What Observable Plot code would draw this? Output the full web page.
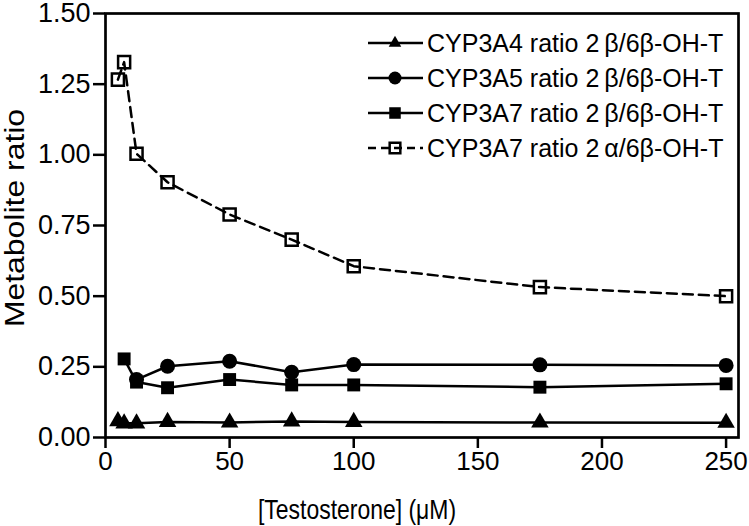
<!DOCTYPE html>
<html><head><meta charset="utf-8">
<script src="https://cdn.jsdelivr.net/npm/d3@7"></script>
<script src="https://cdn.jsdelivr.net/npm/@observablehq/plot@0.6"></script>
<style>
body{margin:0;background:#fff;}
#chart svg{font-family:"Liberation Sans",Arial,sans-serif;background:#fff;}
</style></head><body><div id="chart"></div>
<script>
// Testosterone concentrations (µM)
const concentrations = [5, 7.5, 12.5, 25, 50, 75, 100, 175, 250];
// Metabolite ratios per series (null = no point)
const cyp3a4_2b6b = [0.058, 0.050, 0.050, 0.055, 0.053, 0.057, 0.055, 0.053, 0.052];
const cyp3a5_2b6b = [null, null, 0.205, 0.252, 0.270, 0.231, 0.258, 0.257, 0.255];
const cyp3a7_2b6b = [null, 0.278, 0.196, 0.176, 0.205, 0.186, 0.186, 0.178, 0.190];
const cyp3a7_2a6b = [1.266, 1.328, 1.004, 0.903, 0.789, 0.700, 0.606, 0.532, 0.500];
const seriesLabels = [
  "CYP3A4 ratio 2\u2009β/6β-OH-T",
  "CYP3A5 ratio 2\u2009β/6β-OH-T",
  "CYP3A7 ratio 2\u2009β/6β-OH-T",
  "CYP3A7 ratio 2\u2009α/6β-OH-T"
];
const xTicks = [0, 50, 100, 150, 200, 250];
const yTicks = [0, 0.25, 0.5, 0.75, 1.0, 1.25, 1.5];
const xLabel = "[Testosterone] (μM)";
const yLabel = "Metabolite ratio";

const toRows = (vals) => concentrations.map((x, i) => ({x, y: vals[i]})).filter(d => d.y != null);
const rA4 = toRows(cyp3a4_2b6b), rA5 = toRows(cyp3a5_2b6b), rA7 = toRows(cyp3a7_2b6b), rA7a = toRows(cyp3a7_2a6b);

const SW = 2.5;
const legendStyles = [
  {type: d3.symbolTriangle2, r: 6, fill: "#000", stroke: "none", dash: null},
  {type: d3.symbolCircle, r: 6.5, fill: "#000", stroke: "none", dash: null},
  {type: d3.symbolSquare, r: 6.5, fill: "#000", stroke: "none", dash: null},
  {type: d3.symbolSquare, r: 6, fill: "none", stroke: "#000", dash: "8,5"}
];

function legend(index, scales, values, dims) {
  const right = dims.width - dims.marginRight;
  const cx = right - 343, y0 = dims.marginTop + 30, step = 35;
  const g = d3.create("svg:g");
  seriesLabels.forEach((label, i) => {
    const s = legendStyles[i], y = y0 + i * step;
    g.append("line").attr("x1", cx - 27).attr("x2", cx + 28).attr("y1", y).attr("y2", y)
      .attr("stroke", "#000").attr("stroke-width", SW).attr("stroke-dasharray", s.dash);
    g.append("path").attr("transform", `translate(${cx},${y})`)
      .attr("d", d3.symbol(s.type, s.r * s.r * Math.PI)())
      .attr("fill", s.fill).attr("stroke", s.stroke).attr("stroke-width", SW);
    g.append("text").attr("x", cx + 32).attr("y", y).attr("dy", "0.36em")
      .attr("text-anchor", "start")
      .attr("font-size", 25).attr("fill", "#000").text(label);
  });
  return g.node();
}

const chart = Plot.plot({
  width: 749, height: 526,
  marginLeft: 105, marginTop: 13, marginRight: 11, marginBottom: 89,
  x: {domain: [0, 255]},
  y: {domain: [0, 1.5]},
  marks: [
    Plot.axisX({ticks: xTicks, tickSize: 11, tickPadding: 3, fontSize: 26, strokeWidth: SW, label: null}),
    Plot.axisY({ticks: yTicks, tickFormat: d3.format(".2f"), tickSize: 12, tickPadding: 3, fontSize: 27, strokeWidth: SW, label: null}),
    Plot.frame({stroke: "#000", strokeWidth: 2.7}),
    Plot.line(rA4, {x: "x", y: "y", stroke: "#000", strokeWidth: SW}),
    Plot.line(rA5, {x: "x", y: "y", stroke: "#000", strokeWidth: SW}),
    Plot.line(rA7, {x: "x", y: "y", stroke: "#000", strokeWidth: SW}),
    Plot.line(rA7a, {x: "x", y: "y", stroke: "#000", strokeWidth: SW, strokeDasharray: "10,6"}),
    Plot.dot(rA4, {x: "x", y: "y", symbol: "triangle", r: 6.5, fill: "#000"}),
    Plot.dot(rA5, {x: "x", y: "y", symbol: "circle", r: 7.5, fill: "#000"}),
    Plot.dot(rA7, {x: "x", y: "y", symbol: "square", r: 7.3, fill: "#000"}),
    Plot.dot(rA7a, {x: "x", y: "y", symbol: "square", r: 6.8, fill: "none", stroke: "#000", strokeWidth: SW}),
    Plot.text([yLabel], {frameAnchor: "left", rotate: -90, dx: -90, dy: -7.5, fontSize: 28, textAnchor: "middle", lineAnchor: "middle", fill: "#000"}),
    Plot.text([xLabel], {frameAnchor: "bottom", dx: -65, dy: 73, fontSize: 28, textAnchor: "middle", lineAnchor: "middle", fill: "#000"}),
    legend
  ]
});
// the reference's titles are stretched/condensed along their length
d3.select(chart).selectAll("text").each(function() {
  const t = this.textContent, el = d3.select(this), tr = el.attr("transform") || "";
  if (t === yLabel) el.attr("transform", tr + " scale(1.14,1)");
  if (t === xLabel) el.attr("transform", tr + " scale(0.82,1)");
});
document.getElementById("chart").appendChild(chart);
</script></body></html>
